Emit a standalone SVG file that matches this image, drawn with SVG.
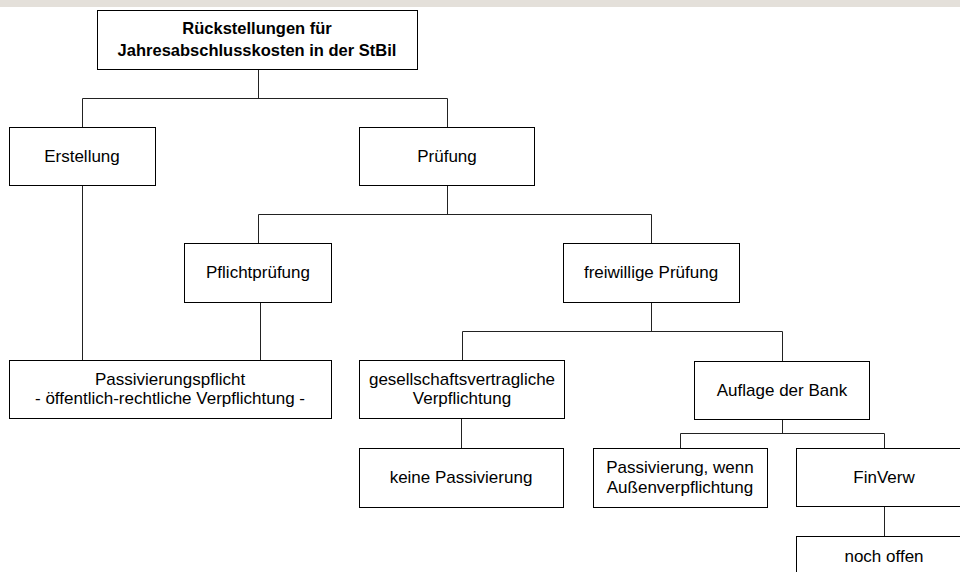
<svg xmlns="http://www.w3.org/2000/svg" width="960" height="572" viewBox="0 0 960 572">
<style>
.box{fill:#fff;stroke:#000;stroke-width:1}
.t{font-family:"Liberation Sans",Arial,sans-serif;font-size:17px;fill:#000;text-anchor:middle}
.b{font-weight:bold;font-size:16.5px}
.c{fill:none;stroke:#222;stroke-width:1}
</style>
<rect x="0" y="0" width="960" height="572" fill="#fff"/>
<rect x="0" y="0" width="960" height="7" fill="#E4E0DA"/>
<g id="connectors" class="c">
<path d="M258.5,69.5V98.5M82.5,98.5H447.5M82.5,98.5V127.5M447.5,98.5V127.5"/>
<path d="M82.5,185.5V360.5"/>
<path d="M447.5,185.5V214.5M258.5,214.5H651.5M258.5,214.5V243.5M651.5,214.5V243.5"/>
<path d="M260.5,302.5V360.5"/>
<path d="M651.5,302.5V331.5M462.5,331.5H782.5M462.5,331.5V360.5M782.5,331.5V361.5"/>
<path d="M461.5,418.5V448.5"/>
<path d="M782.5,419.5V433.5M680.5,433.5H884.5M680.5,433.5V448.5M884.5,433.5V448.5"/>
<path d="M884.5,506.5V536.5"/>
</g>
<g id="root"><rect class="box" x="97.5" y="10.5" width="320" height="59"/><text class="t b" x="257" y="34">Rückstellungen für</text><text class="t b" x="257" y="56">Jahresabschlusskosten in der StBil</text></g>
<g id="erstellung"><rect class="box" x="9.5" y="127.5" width="146" height="58"/><text class="t" x="82" y="162">Erstellung</text></g>
<g id="pruefung"><rect class="box" x="359.5" y="127.5" width="175" height="58"/><text class="t" x="447" y="162">Prüfung</text></g>
<g id="pflichtpruefung"><rect class="box" x="184.5" y="243.5" width="147" height="59"/><text class="t" x="258" y="278">Pflichtprüfung</text></g>
<g id="freiwillige"><rect class="box" x="563.5" y="243.5" width="176" height="59"/><text class="t" x="651" y="278">freiwillige Prüfung</text></g>
<g id="passivierungspflicht"><rect class="box" x="9.5" y="360.5" width="322" height="58"/><text class="t" x="170" y="385">Passivierungspflicht</text><text class="t" x="170" y="404">- öffentlich-rechtliche Verpflichtung -</text></g>
<g id="gesellschaft"><rect class="box" x="359.5" y="360.5" width="205" height="58"/><text class="t" x="462" y="385">gesellschaftsvertragliche</text><text class="t" x="462" y="404">Verpflichtung</text></g>
<g id="auflage"><rect class="box" x="694.5" y="361.5" width="175" height="58"/><text class="t" x="782" y="396">Auflage der Bank</text></g>
<g id="keine"><rect class="box" x="359.5" y="448.5" width="204" height="59"/><text class="t" x="461" y="483">keine Passivierung</text></g>
<g id="passivierung-wenn"><rect class="box" x="593.5" y="448.5" width="174" height="59"/><text class="t" x="680" y="473">Passivierung, wenn</text><text class="t" x="680" y="493">Außenverpflichtung</text></g>
<g id="finverw"><rect class="box" x="796.5" y="448.5" width="176" height="58"/><text class="t" x="884" y="483">FinVerw</text></g>
<g id="noch-offen"><rect class="box" x="796.5" y="536.5" width="176" height="60"/><text class="t" x="884" y="562">noch offen</text></g>
</svg>
